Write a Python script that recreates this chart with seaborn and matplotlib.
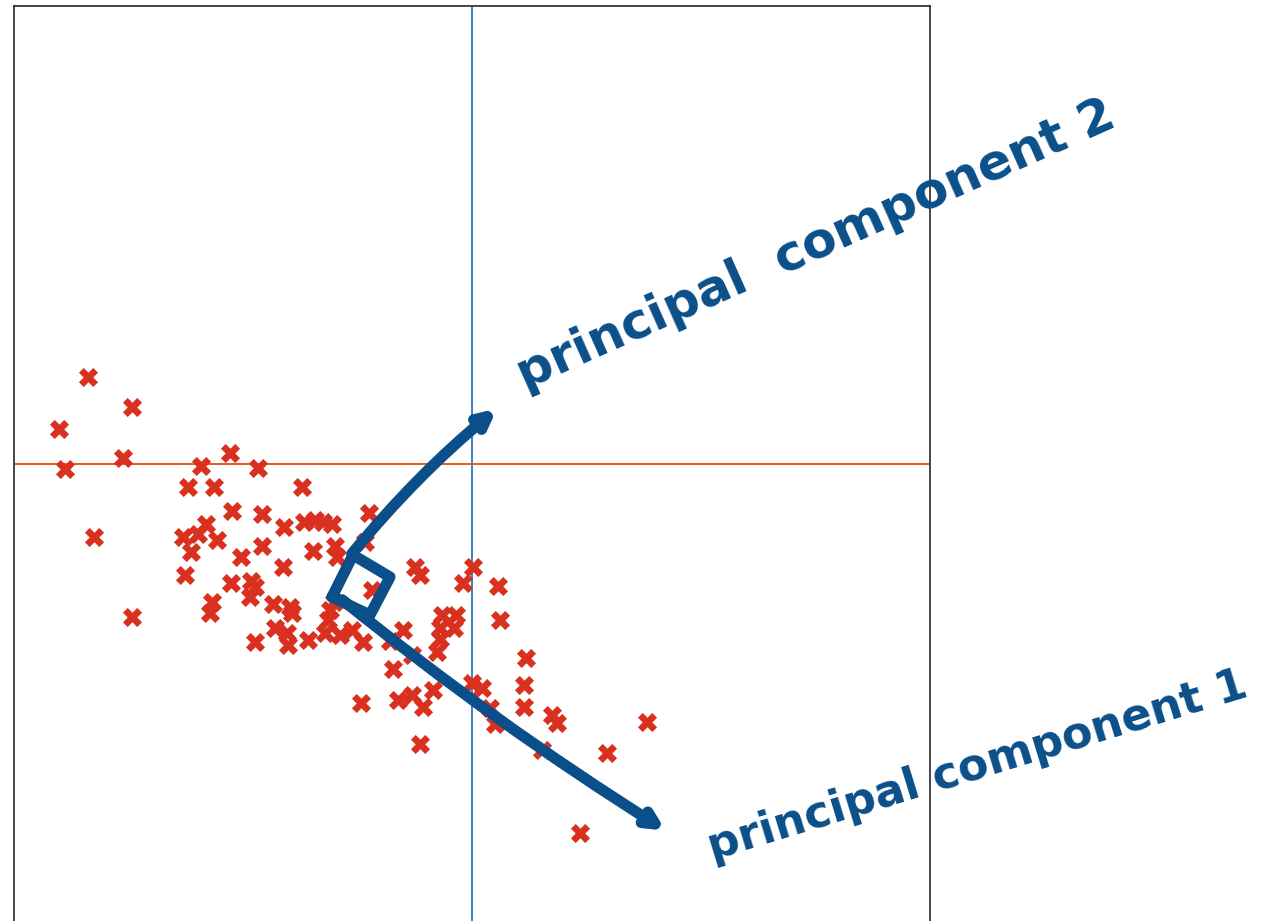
import numpy as np
import pandas as pd
import matplotlib
matplotlib.use("Agg")
import matplotlib.pyplot as plt
import seaborn as sns

x_vals = [-3.84, -3.40, -4.13, -4.07, -3.49, -3.78, -3.40, -2.71, -2.42, -2.14,
          -2.84, -2.58, -1.70, -2.40, -2.10, -2.66, -2.89, -2.74, -2.55, -2.81,
          -1.88, -1.68, -1.57, -1.49, -1.40, -2.10, -2.31, -1.59, -1.37, -1.35,
          -2.87, -1.89, -2.41, -2.21, -2.17, -2.22, -2.60, -2.62, -1.99, -1.82,
          -1.80, -1.42, -2.17, -1.97, -1.85, -1.84, -1.64, -1.47, -1.32, -1.20,
          -1.09, -1.03, -1.07, -0.57, -0.52, 0.01, -0.09, 0.26, 0.28, -1.00,
          -1.38, -1.44, -0.30, -0.16, -0.32, -0.18, -0.32, -0.35, -0.69, -0.82,
          -0.60, -0.79, -1.11, -0.74, -0.60, -0.49, -0.39, -0.52, 0.00, 0.10,
          0.18, 0.23, 0.54, 0.52, 0.52, 0.80, 0.85, 0.70, 1.35, 1.75, 1.08]
y_vals = [0.87, 0.57, 0.35, -0.05, 0.06, -0.73, -1.53, -0.02, 0.11, -0.04,
          -0.23, -0.23, -0.23, -0.47, -0.50, -0.60, -0.73, -0.70, -0.76, -0.88,
          -0.63, -0.58, -0.56, -0.58, -0.60, -0.82, -0.93, -0.87, -0.82, -0.93,
          -1.11, -1.03, -1.19, -1.17, -1.23, -1.33, -1.38, -1.49, -1.40, -1.43,
          -1.49, -1.46, -1.78, -1.64, -1.69, -1.81, -1.76, -1.69, -1.71, -1.66,
          -1.78, -0.49, -0.78, -1.03, -1.11, -1.03, -1.19, -1.22, -1.56, -1.26,
          -1.38, -1.56, -1.51, -1.51, -1.64, -1.64, -1.75, -1.88, -1.66, -1.77,
          -1.91, -2.05, -2.39, -2.36, -2.31, -2.43, -2.26, -2.80, -2.19, -2.24,
          -2.44, -2.60, -1.94, -2.21, -2.43, -2.51, -2.59, -2.86, -2.89, -2.58, -3.69]

df = pd.DataFrame({"x": x_vals, "y": y_vals})

sns.set_style("white")
fig = plt.figure(figsize=(12.67, 9.21), dpi=100)
ax = fig.add_axes([14/1267, -1/921, 916/1267, 916/921])

ink = "#0b4f8a"

ax.axvline(0, color="#3d7fc6", lw=1.4, zorder=1)
ax.axhline(0, color="#e8591a", lw=1.4, zorder=1)

sns.scatterplot(data=df, x="x", y="y", marker="X", s=190, color="#d9301f",
                linewidth=0, ax=ax, zorder=2)

# annotations (hand-drawn style)
ax.annotate("", xy=(1.96, -3.68), xytext=(-1.32, -1.34),
            arrowprops=dict(arrowstyle="->,head_length=0.9,head_width=0.45", color=ink,
                            lw=8, connectionstyle="arc3,rad=0.03"),
            annotation_clip=False, zorder=4)
ax.annotate("", xy=(0.27, 0.57), xytext=(-1.22, -0.92),
            arrowprops=dict(arrowstyle="->,head_length=0.9,head_width=0.45", color=ink,
                            lw=8, connectionstyle="arc3,rad=-0.05"),
            annotation_clip=False, zorder=4)
ax.plot([-1.40, -1.19, -0.82, -1.02, -1.40], [-1.33, -0.91, -1.13, -1.51, -1.33],
        color=ink, lw=8, solid_capstyle="round", solid_joinstyle="round", zorder=4)

ax.text(0.53, 0.74, "principal  component 2", color=ink, fontsize=36,
        fontweight="bold", rotation=24, rotation_mode="anchor",
        ha="left", va="baseline", clip_on=False, zorder=5)
ax.text(2.40, -3.96, "principal component 1", color=ink, fontsize=32,
        fontweight="bold", rotation=17, rotation_mode="anchor",
        ha="left", va="baseline", clip_on=False, zorder=5)

ax.set_xlim(-4.58, 4.58)
ax.set_ylim(-4.58, 4.58)
ax.set_xticks([])
ax.set_yticks([])
ax.set_xlabel("")
ax.set_ylabel("")
for sp in ax.spines.values():
    sp.set_color("#262626")
    sp.set_linewidth(1.2)

fig.savefig("out.png", dpi=100)
